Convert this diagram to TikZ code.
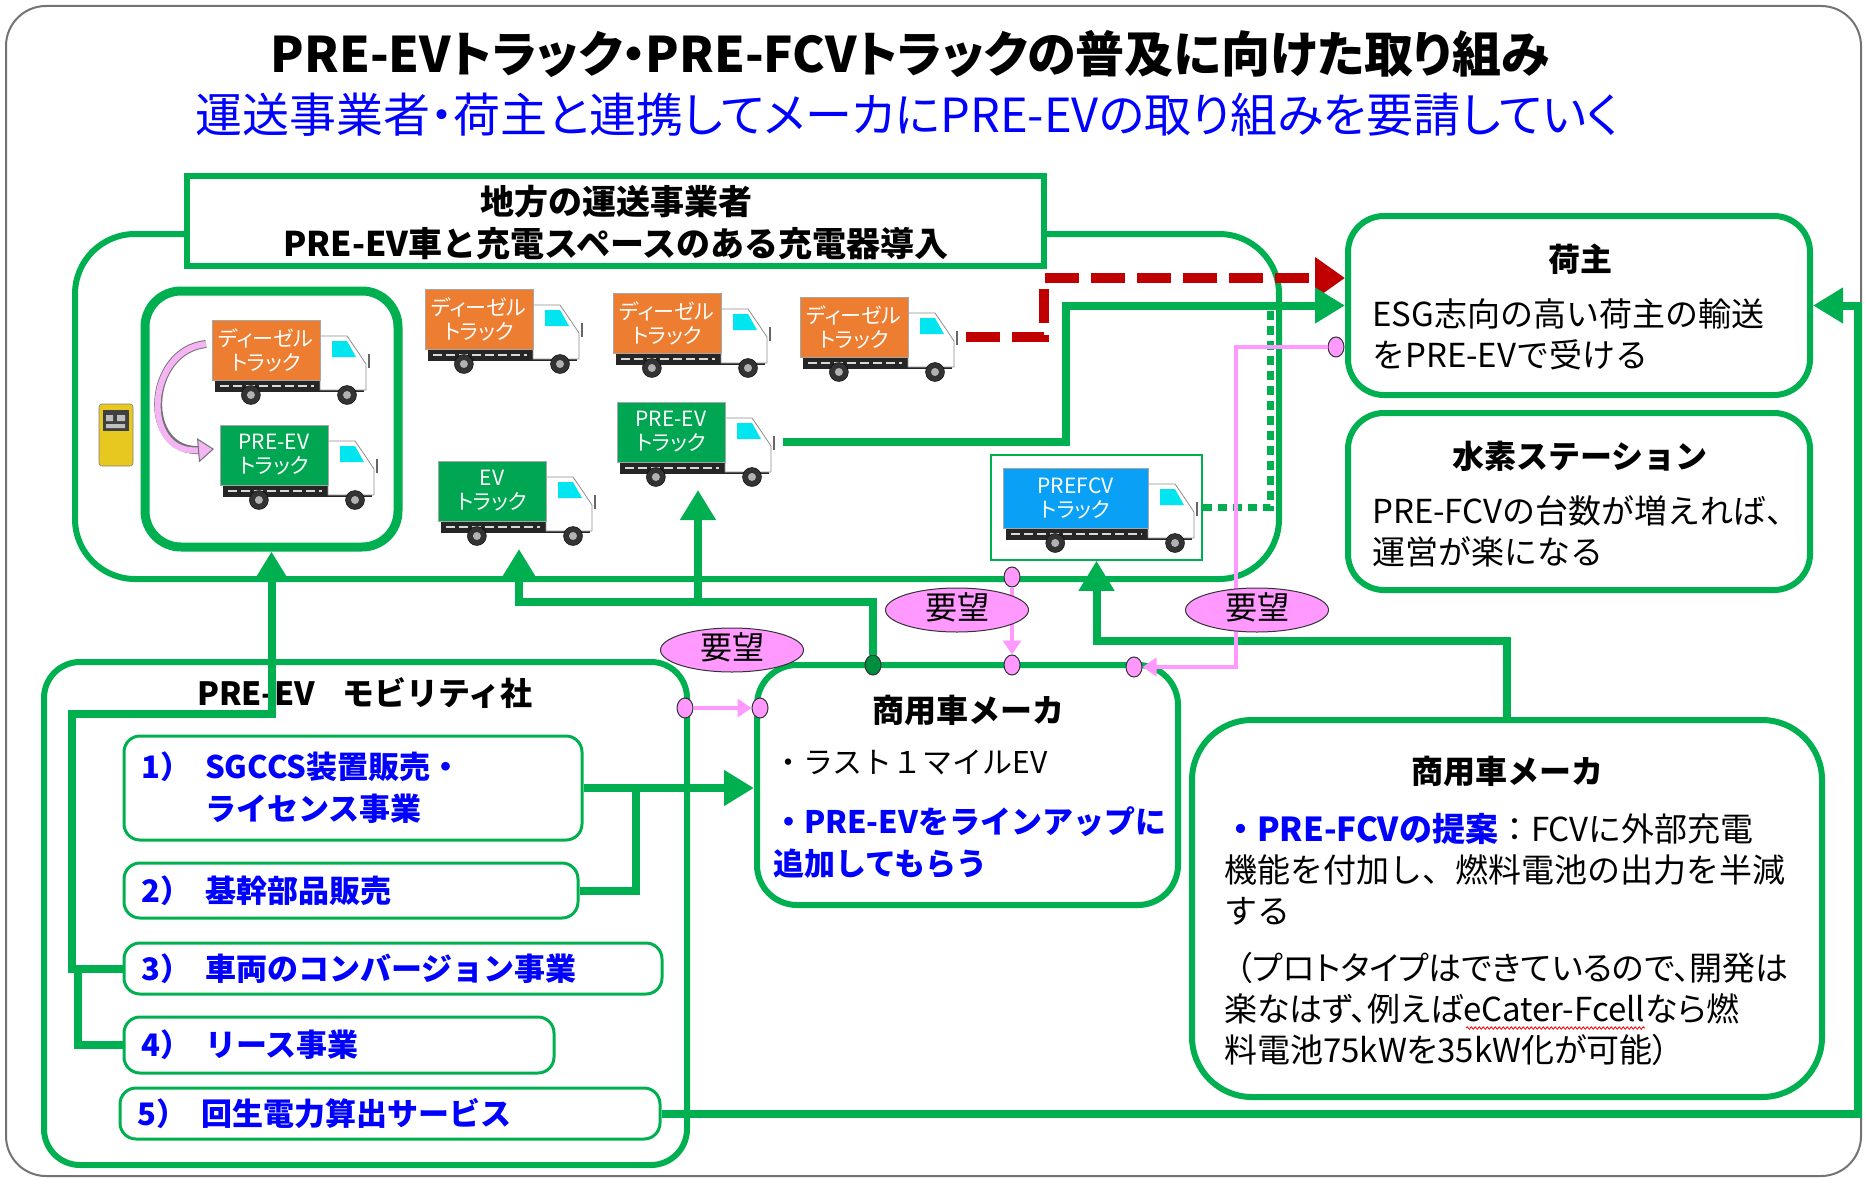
\documentclass[tikz,border=0pt]{standalone}
\usepackage{fontspec}
\setmainfont{Noto Sans CJK JP}
\usetikzlibrary{arrows.meta,shapes.geometric,calc,decorations.pathmorphing}

\definecolor{lgreen}{HTML}{00B050}
\definecolor{tgreen}{HTML}{00A651}
\definecolor{torange}{HTML}{ED7D31}
\definecolor{tblue}{HTML}{0AA0F5}
\definecolor{pk}{HTML}{FF99FF}
\definecolor{pkl}{HTML}{F5B5F5}
\definecolor{dred}{HTML}{C00000}
\definecolor{jblue}{HTML}{0000FF}
\definecolor{wcyan}{HTML}{00E5F0}
\definecolor{chy}{HTML}{E6C821}

\newcommand{\FS}[2]{\fontsize{#1pt}{#2pt}\selectfont}
\newcommand{\prop}{\addfontfeature{RawFeature=+palt}}

% truck: #1 name, #2/#3 top-left of the cargo box, #4 cargo width, #5 colour, #6 label
\newcommand{\Truck}[6]{%
\begin{scope}[shift={(#2,#3)}]
  \fill[black!85] (3,60) rectangle (#4+44,72);
  \draw[white!70!gray, line width=1.5pt, dash pattern=on 9pt off 4pt] (8,66) -- (#4-6,66);
  \filldraw[fill=white, draw=black!45, line width=0.8pt] (#4,16) -- (#4+27,16) -- (#4+38,32) -- (#4+46,44) -- (#4+46,70) -- (#4,70) -- cycle;
  \fill[wcyan] (#4+12,21) -- (#4+27,21) -- (#4+36,37) -- (#4+12,37) -- cycle;
  \draw[black!60, line width=1.5pt] (#4+49,34) -- (#4+49,48);
  \filldraw[fill=#5, draw=black!35, line width=1pt] (0,0) rectangle (#4,60);
  \foreach \wx in {0.36*#4, #4+27} {
    \filldraw[fill=black!80, draw=black] (\wx,75) circle (9.5pt);
    \fill[black!30] (\wx,75) circle (4pt);}
  \node[trucktext] (#1) at (#4/2,30) {#6};
  \coordinate (#1-b) at (0.75*#4,88);
  \coordinate (#1-e) at (#4+58,40);
  \coordinate (#1-w) at (-6,24);
\end{scope}}

\begin{document}
\begin{tikzpicture}[x=1pt,y=-1pt,
  trucktext/.style={text=white, font=\FS{21}{24}\prop, align=center, inner sep=0pt},
  gbox/.style={draw=lgreen, line width=6pt, rounded corners=36pt, fill=white, inner sep=0pt},
  item/.style={draw=lgreen, line width=3pt, rounded corners=16pt, fill=white, inner sep=0pt},
  hd/.style={font=\FS{32}{36}\bfseries, inner sep=0pt},
  body/.style={font=\FS{33}{41}, align=left, inner sep=0pt, anchor=west},
  itx/.style={text=jblue, font=\FS{31}{42}\bfseries, align=left, inner sep=0pt, anchor=west},
  conn/.style={draw=lgreen, line width=8pt},
  gtip/.style={-{Triangle[length=30pt,width=34pt]}},
  reddash/.style={draw=dred, line width=10pt, dash pattern=on 34pt off 12pt, -{Triangle[length=30pt,width=40pt]}},
  gdotted/.style={draw=lgreen, line width=7pt, dash pattern=on 9pt off 6pt},
  pline/.style={draw=pk, line width=4pt, -{Triangle[length=14pt,width=18pt]}},
  pdot/.style={ellipse, draw=black!80, fill=pk, line width=1pt, minimum width=16pt, minimum height=20pt, inner sep=0pt},
  gdotst/.style={ellipse, draw=black!80, fill=lgreen!80!black, line width=1pt, minimum width=16pt, minimum height=20pt, inner sep=0pt},
  yobo/.style={ellipse, draw=black!80, fill=pk, line width=1pt, minimum width=143pt, minimum height=44pt, inner sep=0pt, text height=22pt, text depth=4pt, font=\FS{32}{32}}
]
\useasboundingbox (0,0) rectangle (1865,1180);
\fill[white] (0,0) rectangle (1865,1180);
\draw[black!55, line width=2pt, rounded corners=40pt] (6,6) rectangle (1861,1176);

% headline
\node[font=\FS{49}{54}\bfseries\prop] (title) at (910,54) {PRE-EVトラック・PRE-FCVトラックの普及に向けた取り組み};
\node[text=jblue, font=\FS{47}{50}\prop] (sub) at (907,115) {運送事業者・荷主と連携してメーカにPRE-EVの取り組みを要請していく};

% carriers group
\node[draw=lgreen, line width=6pt, rounded corners=60pt, minimum width=1204pt, minimum height=345pt, inner sep=0pt] (group) at (677,406.5) {};
\node[draw=lgreen, line width=6pt, fill=white, minimum width=857pt, minimum height=90pt, inner sep=0pt] (hdr) at (615.5,221) {};
\node[font=\FS{34}{42}\bfseries, align=center, inner sep=0pt] (hdrtext) at (616,223) {地方の運送事業者\\PRE-EV車と充電スペースのある充電器導入};
\node[draw=lgreen, line width=9pt, rounded corners=36pt, minimum width=253pt, minimum height=256pt, inner sep=0pt] (inner) at (271.5,419) {};

% charger
\node[fill=chy, draw=black!50, line width=0.6pt, rounded corners=3pt, minimum width=34pt, minimum height=62pt, inner sep=0pt] (charger) at (116,435) {};
\fill[black!75] (103,410) rectangle (129,431);
\fill[black!25] (106,415) rectangle (113,421) (117,415) rectangle (125,421) (106,424) rectangle (125,428);

% trucks
\Truck{trA}{212}{320}{108}{torange}{ディーゼル\\トラック}
\Truck{trB}{220}{425}{108}{tgreen}{PRE-EV\\トラック}
\Truck{trC}{425}{289}{108}{torange}{ディーゼル\\トラック}
\Truck{trD}{613}{293}{108}{torange}{ディーゼル\\トラック}
\Truck{trE}{800}{297}{108}{torange}{ディーゼル\\トラック}
\Truck{trF}{617}{402}{108}{tgreen}{PRE-EV\\トラック}
\Truck{trG}{438}{461}{108}{tgreen}{EV\\トラック}
\node[draw=lgreen, line width=1.5pt, minimum width=211pt, minimum height=105pt, inner sep=0pt] (fcvbox) at (1096.5,507.5) {};
\Truck{trH}{1003}{468}{145}{tblue}{PREFCV\\トラック}

% conversion arrow
\draw[draw=black!55, line width=8pt, shorten >=12pt] (trA-w) .. controls (146,350) and (140,455) .. (trB-w);
\draw[draw=pkl, line width=6pt, -{Triangle[length=16pt,width=24pt,fill=pkl,color=black!55,line width=1pt]}] (trA-w) .. controls (146,350) and (140,455) .. (trB-w);

% right-hand boxes
\node[gbox, minimum width=462pt, minimum height=179pt] (shipper) at (1579,305.5) {};
\node[gbox, minimum width=462pt, minimum height=177pt] (station) at (1579,501.5) {};
\node[gbox, rounded corners=60pt, minimum width=630pt, minimum height=377pt] (rmaker) at (1507,908.5) {};
\node[gbox, rounded corners=40pt, minimum width=421pt, minimum height=240pt] (mmaker) at (967.5,785) {};
\node[gbox, minimum width=643pt, minimum height=503pt] (mob) at (365.5,913.5) {};

\node[item, minimum width=458pt, minimum height=104pt] (it1) at (353,788) {};
\node[item, minimum width=454pt, minimum height=55pt] (it2) at (351,890.5) {};
\node[item, minimum width=538pt, minimum height=51pt] (it3) at (393,968.5) {};
\node[item, minimum width=430pt, minimum height=56pt] (it4) at (339,1045) {};
\node[item, minimum width=540pt, minimum height=51pt] (it5) at (390,1113.5) {};

% texts
\node[hd] (shipperT) at (1580,259) {荷主};
\node[body] (shipperB) at (1372,334.5) {ESG志向の高い荷主の輸送\\をPRE-EVで受ける};
\node[hd] (stationT) at (1580,456) {水素ステーション};
\node[body] (stationB) at (1372,531) {PRE-FCVの台数が増えれば、\\運営が楽になる};
\node[hd] (rmakerT) at (1507,771) {商用車メーカ};
\node[body] (rmakerB1) at (1224,869) {{\color{jblue}\bfseries ・PRE-FCVの提案}：FCVに外部充電\\機能を付加し、燃料電池の出力を半減\\する};
\node[body, font=\FS{33}{41}\prop] (rmakerB2) at (1224,1009) {\hspace*{12pt}（プロトタイプはできているので、開発は\\楽なはず、例えばeCater-Fcellなら燃\\料電池75kWを35kW化が可能）};
\draw[red, line width=0.8pt, decorate, decoration={snake, amplitude=1.2pt, segment length=4pt}] (1466,1028) -- (1645,1028);
\node[hd] (mmakerT) at (968,710) {商用車メーカ};
\node[body, font=\FS{30}{40}] (mmakerB1) at (773,762) {・ラスト１マイルEV};
\node[itx] (mmakerB2) at (773,843) {・PRE-EVをラインアップに\\追加してもらう};
\node[hd] (mobT) at (365,693) {PRE-EV\hspace{28pt}モビリティ社};
\node[itx] (it1t) at (141,788) {\makebox[64pt][l]{1）}SGCCS装置販売・\\\hspace*{64pt}ライセンス事業};
\node[itx] (it2t) at (141,891) {\makebox[64pt][l]{2）}基幹部品販売};
\node[itx] (it3t) at (141,969) {\makebox[64pt][l]{3）}車両のコンバージョン事業};
\node[itx] (it4t) at (141,1045) {\makebox[64pt][l]{4）}リース事業};
\node[itx] (it5t) at (137,1114) {\makebox[64pt][l]{5）}回生電力算出サービス};

% junction points
\coordinate (jy) at (0,602);
\coordinate (k2) at (636,0);
\coordinate (rx) at (1858,0);
\coordinate (jx) at (1066,0);
\coordinate (rdx) at (1044,0);
\coordinate (ry) at (0,278);
\coordinate (dx) at (1270,0);
\coordinate (t1) at (72,714);
\coordinate (t2) at (78,0);
\coordinate (pc) at (1236,667);

% contact points
\node[pdot] (pd1) at (1336,347) {};
\node[pdot] (pd2) at (1134,667) {};
\node[pdot] (pd3) at (1012,577) {};
\node[pdot] (pd4) at (1012,665) {};
\node[pdot] (pd5) at (685,708) {};
\node[pdot] (pd6) at (760,708) {};
\node[gdotst] (gdot) at (873,665) {};

% flows
\draw[reddash] (trE-e) -| (rdx |- ry) -- (ry -| shipper.west);
\draw[gdotted] (fcvbox.east) -| (dx |- shipper.west);
\draw[conn, gtip] (trF-e) -| (jx |- shipper.west) -- (shipper.west);
\draw[conn, gtip] (it3.west) -| (t1) -| (inner.south);
\draw[conn] (it4.west) -| (t2 |- it3.west);
\draw[conn, gtip] (gdot) |- (jy -| trF-b) -| (trG-b);
\draw[conn, gtip] (jy -| trF-b) -- (trF-b);
\draw[conn, gtip] (it1.east) -- (it1.east -| mmaker.west);
\draw[conn] (it2.east) -| (k2 |- it1.east);
\draw[conn, gtip] (it5.east) -| (rx |- shipper.east) -- (shipper.east);
\draw[conn, gtip] (rmaker.north) |- ($(fcvbox.south)+(0,80)$) -- (fcvbox.south);

% requests
\draw[pline] (pd1) -| (pc) -- (pd2);
\draw[pline] (pd3) -- (pd4);
\draw[pline] (pd5) -- (pd6);
\node[yobo] (y1) at (732,650) {要望};
\node[yobo] (y2) at (957,610) {要望};
\node[yobo] (y3) at (1257,610) {要望};
\end{tikzpicture}
\end{document}
